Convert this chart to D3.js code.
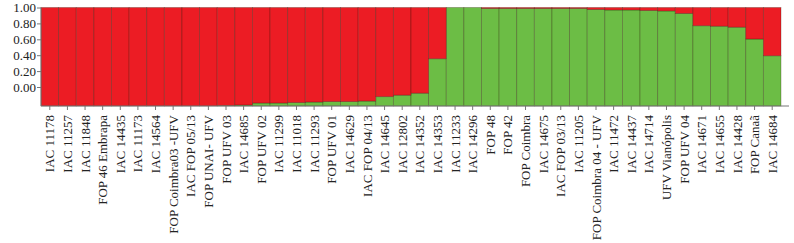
<!DOCTYPE html>
<html lang="pt">
<head>
  <meta charset="UTF-8">
  <title>Structure</title>
  <script src="https://d3js.org/d3.v7.min.js"></script>
  <style>
    body {
      margin: 0;
      background: #fff;
    }
    svg text {
      font-family: "Liberation Serif", "Times New Roman", serif;
      font-size: 13px;
      fill: #222;
    }
    .axis path, .axis line, .eixo {
      stroke: #777;
      stroke-width: 1px;
    }
    .barra {
      stroke: rgba(40, 20, 0, 0.35);
      stroke-width: 0.8px;
    }
  </style>
</head>
<body>
  <div id="chart"></div>

  <script>
    const acessos = [
      "IAC 11178", "IAC 11257", "IAC 11848", "FOP 46 Embrapa", "IAC 14435",
      "IAC 11173", "IAC 14564", "FOP Coimbra03 -UFV", "IAC FOP 05/13", "FOP UNAI- UFV",
      "FOP UFV 03", "IAC 14685", "FOP UFV 02", "IAC 11299", "IAC 11018",
      "IAC 11293", "FOP UFV 01", "IAC 14629", "IAC FOP 04/13", "IAC 14645",
      "IAC 12802", "IAC 14352", "IAC 14353", "IAC 11233", "IAC 14296",
      "FOP 48", "FOP 42", "FOP Coimbra", "IAC 14675", "IAC FOP 03/13",
      "IAC 11205", "FOP Coimbra 04 - UFV", "IAC 11472", "IAC 14437", "IAC 14714",
      "UFV Vianópolis", "FOP UFV 04", "IAC 14671", "IAC 14655", "IAC 14428",
      "FOP Canaã", "IAC 14684"
    ];

    // grupo 1 (verde, embaixo)
    const grupoVerde = [
      0, 0, 0, 0, 0, 0, 0, 0, 0, 0,
      0.005, 0.01, 0.03, 0.03, 0.035, 0.04, 0.045, 0.045, 0.05, 0.095,
      0.11, 0.13, 0.48, 1.0, 1.0, 0.99, 0.99, 0.99, 0.99, 0.99,
      0.99, 0.98, 0.975, 0.975, 0.97, 0.965, 0.94, 0.815, 0.81, 0.80,
      0.68, 0.51
    ];

    // grupo 2 (vermelho, em cima)
    const grupoVermelho = [
      1, 1, 1, 1, 1, 1, 1, 1, 1, 1,
      0.995, 0.99, 0.97, 0.97, 0.965, 0.96, 0.955, 0.955, 0.95, 0.905,
      0.89, 0.87, 0.52, 0, 0, 0.01, 0.01, 0.01, 0.01, 0.01,
      0.01, 0.02, 0.025, 0.025, 0.03, 0.035, 0.06, 0.185, 0.19, 0.20,
      0.32, 0.49
    ];

    const rotulosY = [0, 0.2, 0.4, 0.6, 0.8, 1];

    const width = 794, height = 243;
    const margem = {top: 7.5, right: 13, bottom: 137, left: 41};

    const svg = d3.select("#chart")
      .append("svg")
      .attr("width", width)
      .attr("height", height);

    const x = d3.scaleBand()
      .domain(acessos)
      .range([margem.left, width - margem.right])
      .padding(0);

    const y = d3.scaleLinear()
      .domain([0, 1])
      .range([height - margem.bottom, margem.top]);

    // os rotulos do eixo no original nao batem com a altura das barras
    const yRotulo = d3.scaleLinear()
      .domain([0, 1])
      .range([87, margem.top]);

    const tabela = acessos.map((nome, i) => ({
      nome: nome,
      verde: grupoVerde[i],
      vermelho: grupoVermelho[i]
    }));

    const pilha = d3.stack().keys(["verde", "vermelho"])(tabela);
    const cores = {verde: "#6cbd45", vermelho: "#ec1c24"};

    svg.append("g")
      .selectAll("g")
      .data(pilha)
      .enter().append("g")
      .attr("fill", d => cores[d.key])
      .selectAll("rect")
      .data(d => d)
      .enter().append("rect")
      .attr("class", "barra")
      .attr("x", d => x(d.data.nome))
      .attr("width", x.bandwidth())
      .attr("y", d => y(d[1]))
      .attr("height", d => y(d[0]) - y(d[1]));

    // eixo x
    const eixoX = svg.append("g")
      .attr("class", "axis")
      .attr("transform", `translate(0,${y(0)})`)
      .call(d3.axisBottom(x).tickSize(4).tickSizeOuter(0));
    eixoX.select(".domain").remove();
    eixoX.selectAll("text")
      .attr("transform", "rotate(-90)")
      .attr("x", -9)
      .attr("y", 0)
      .attr("dy", "0.35em")
      .style("text-anchor", "end");

    svg.append("line")
      .attr("class", "eixo")
      .attr("x1", x.range()[0])
      .attr("x2", x.range()[1] + 8)
      .attr("y1", y(0))
      .attr("y2", y(0));

    // eixo y
    const eixoY = svg.append("g")
      .attr("class", "axis")
      .attr("transform", `translate(${margem.left},0)`)
      .call(d3.axisLeft(yRotulo).tickValues(rotulosY).tickFormat(d3.format(".2f")).tickSize(4));
    eixoY.select(".domain").remove();
    eixoY.selectAll("text").attr("x", -5);

    svg.append("line")
      .attr("class", "eixo")
      .attr("x1", margem.left)
      .attr("x2", margem.left)
      .attr("y1", y(1))
      .attr("y2", y(0));
  </script>
</body>
</html>
